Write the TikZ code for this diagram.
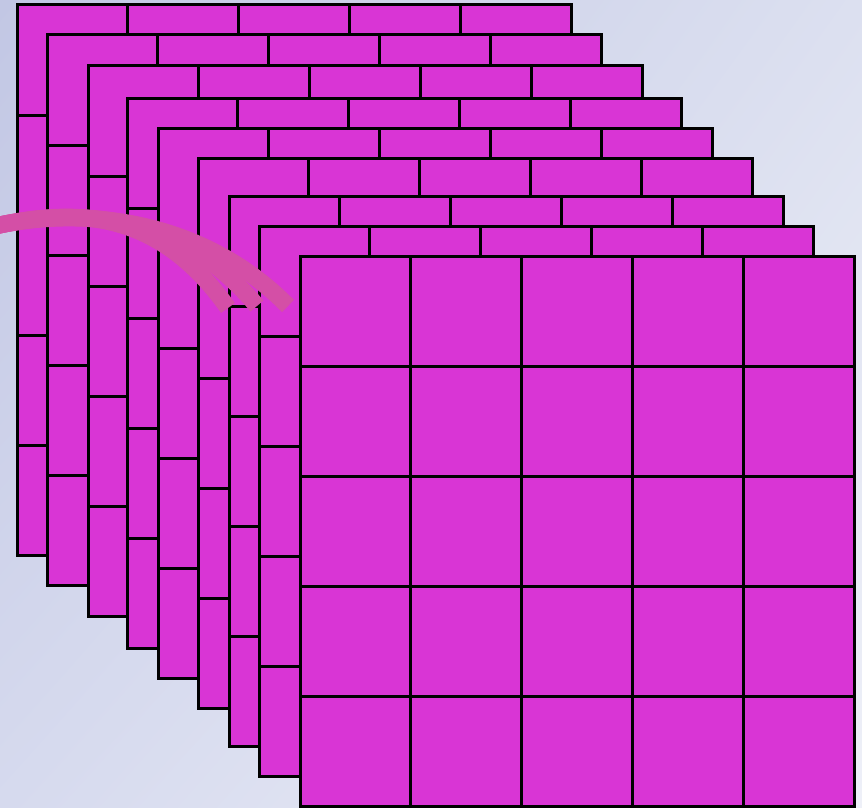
\documentclass[tikz,border=0pt]{standalone}
\usetikzlibrary{shadings}
\definecolor{mag}{HTML}{D935D5}
\definecolor{pinkarc}{HTML}{D44FA6}
\definecolor{bgUL}{HTML}{C2C7E4}
\definecolor{bgUR}{HTML}{DCE0F0}
\definecolor{bgLL}{HTML}{D6DAEE}
\definecolor{bgLR}{HTML}{EEF0F8}
\begin{document}
\begin{tikzpicture}[x=1pt,y=-1pt,
  cell/.style={fill=mag,draw=black,line width=3pt},
  arcband/.style={draw=pinkarc,line width=17pt}]
\useasboundingbox (0,0) rectangle (862,808);
\shade[upper left=bgUL,upper right=bgUR,lower left=bgLL,lower right=bgLR] (0,0) rectangle (862,808);
\foreach \x/\y in {17/5,47/35,88/66,127/98,158/128,198/158,229/196,259/226,300/256}{
  \foreach \i in {0,...,4}{
    \foreach \j in {0,...,4}{
      \draw[cell] ({\x+\i*110.9},{\y+\j*110}) rectangle ++(110.9,110);
    }
  }
}
\coordinate (s) at (-5,226);
\coordinate (e1) at (228,308);
\coordinate (e2) at (257,306);
\coordinate (e3) at (288,306);
\draw[arcband] (s) .. controls (80,207) and (160,212) .. (e1);
\draw[arcband] (s) .. controls (80,207) and (180,214) .. (e2);
\draw[arcband] (s) .. controls (80,207) and (200,217) .. (e3);
\end{tikzpicture}
\end{document}
